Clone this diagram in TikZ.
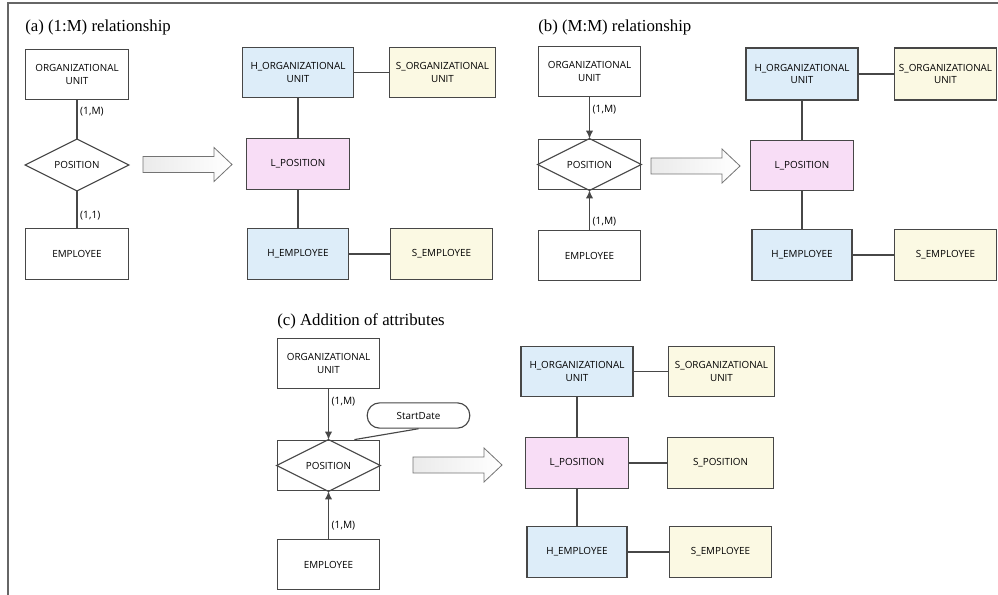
\documentclass[tikz,border=0pt]{standalone}
\usepackage{fontspec}
\setmainfont{Liberation Serif}
\newfontfamily\boxsans{Open Sans}
\usepackage{xcolor}
\usetikzlibrary{arrows.meta,calc}
\definecolor{hubblue}{HTML}{DDEDF9}
\definecolor{lnkpink}{HTML}{F8DDF6}
\definecolor{satyellow}{HTML}{FBF9E3}
\tikzset{
  ent/.style={draw=black!72, line width=0.85pt, minimum width=77pt, minimum height=38pt,
              align=center, inner sep=1pt, font=\boxsans\fontsize{7.4}{9.2}\selectfont},
  hub/.style={ent, fill=hubblue},
  lnk/.style={ent, fill=lnkpink},
  sat/.style={ent, fill=satyellow},
  rel/.style={ent, draw=none},
  conn/.style={draw=black!72, line width=0.85pt},
  card/.style={font=\boxsans\fontsize{7.6}{9}\selectfont, right, inner sep=2pt},
  title/.style={anchor=west, inner sep=0pt, font=\fontsize{12.6}{15}\selectfont}
}
\begin{document}
\begin{tikzpicture}[x=0.75pt, y=-0.75pt]
	\useasboundingbox (0,0) rectangle (998,595);
	\draw[black!60, line width=1.1pt] (8,595) -- (8,3) -- (998,3);

	% (a)
	\node[title] (ta) at (25,27) {(a) (1:M) relationship};
	\node[ent] (orgA) at (77,74.5) {ORGANIZATIONAL\\UNIT};
	\node[rel] (relA) at (77,165) {POSITION};
	\node[ent] (empA) at (77,254) {EMPLOYEE};
	\draw[conn] (relA.north) -- (relA.east) -- (relA.south) -- (relA.west) -- cycle;
	\draw[conn] (orgA.south) -- node[card, pos=0.28] {(1,M)} (relA.north);
	\draw[conn] (relA.south) -- node[card, pos=0.67] {(1,1)} (empA.north);
	\node[hub, minimum width=83pt] (hoA) at (298,72.5) {H\_ORGANIZATIONAL\\UNIT};
	\node[sat, minimum width=79pt] (soA) at (442.5,72.5) {S\_ORGANIZATIONAL\\UNIT};
	\node[lnk] (lpA) at (298,164) {L\_POSITION};
	\node[hub, minimum width=76pt] (heA) at (298,254) {H\_EMPLOYEE};
	\node[sat] (seA) at (441.5,254) {S\_EMPLOYEE};
	\draw[conn] (hoA) -- (soA);
	\draw[conn] (hoA) -- (lpA);
	\draw[conn] (lpA) -- (heA);
	\draw[conn] (heA) -- (seA);

	% (b)
	\node[title] (tb) at (538,27) {(b) (M:M) relationship};
	\node[ent] (orgB) at (589.5,71.5) {ORGANIZATIONAL\\UNIT};
	\node[ent] (relB) at (589.5,164.5) {POSITION};
	\node[ent] (empB) at (589.5,255.5) {EMPLOYEE};
	\draw[conn] (relB.north) -- (relB.east) -- (relB.south) -- (relB.west) -- cycle;
	\draw[conn, -{Latex[length=6pt,width=5.5pt]}] (orgB.south) -- node[card, pos=0.3] {(1,M)} (relB.north);
	\draw[conn, -{Latex[length=6pt,width=5.5pt]}] (empB.north) -- node[card, pos=0.2] {(1,M)} (relB.south);
	\node[hub, minimum width=84pt, minimum height=39pt] (hoB) at (802,74) {H\_ORGANIZATIONAL\\UNIT};
	\node[sat, minimum height=39pt] (soB) at (945.5,74) {S\_ORGANIZATIONAL\\UNIT};
	\node[lnk] (lpB) at (802,165.5) {L\_POSITION};
	\node[hub, minimum width=75pt] (heB) at (802,255) {H\_EMPLOYEE};
	\node[sat] (seB) at (945.5,255) {S\_EMPLOYEE};
	\draw[conn] (hoB) -- (soB);
	\draw[conn] (hoB) -- (lpB);
	\draw[conn] (lpB) -- (heB);
	\draw[conn] (heB) -- (seB);

	% (c)
	\node[title] (tc) at (277,321) {(c) Addition of attributes};
	\node[ent] (orgC) at (328.5,363.5) {ORGANIZATIONAL\\UNIT};
	\node[ent] (relC) at (328.5,465.5) {POSITION};
	\node[ent] (empC) at (328.5,564.5) {EMPLOYEE};
	\draw[conn] (relC.north) -- (relC.east) -- (relC.south) -- (relC.west) -- cycle;
	\draw[conn, -{Latex[length=6pt,width=5.5pt]}] (orgC.south) -- node[card, pos=0.24] {(1,M)} (relC.north);
	\draw[conn, -{Latex[length=6pt,width=5.5pt]}] (empC.north) -- node[card, pos=0.27] {(1,M)} (relC.south);
	\node[ent, rounded corners=9.4pt, minimum height=19pt] (sdC) at (418.5,415.5) {StartDate};
	\draw[conn] ($(relC.north)!0.5!(relC.north east)$) -- (sdC.south);
	\node[hub, minimum width=84pt] (hoC) at (577,371.5) {H\_ORGANIZATIONAL\\UNIT};
	\node[sat, minimum width=79pt] (soC) at (721.5,371.5) {S\_ORGANIZATIONAL\\UNIT};
	\node[lnk] (lpC) at (577,463) {L\_POSITION};
	\node[sat, minimum width=79pt] (spC) at (720.5,463) {S\_POSITION};
	\node[hub, minimum width=75pt] (heC) at (577,552) {H\_EMPLOYEE};
	\node[sat] (seC) at (720.5,552) {S\_EMPLOYEE};
	\draw[conn] (hoC) -- (soC);
	\draw[conn] (hoC) -- (lpC);
	\draw[conn] (lpC) -- (spC);
	\draw[conn] (lpC) -- (heC);
	\draw[conn] (heC) -- (seC);

	% block arrows
	\foreach \x/\y in {143/164.5, 651/166, 413/465}
		\draw[black!55, line width=0.6pt, left color=black!8, right color=white]
			(\x,\y-8) -- (\x+71,\y-8) -- (\x+71,\y-17) -- (\x+89,\y)
			-- (\x+71,\y+17) -- (\x+71,\y+8) -- (\x,\y+8) -- cycle;
\end{tikzpicture}
\end{document}
